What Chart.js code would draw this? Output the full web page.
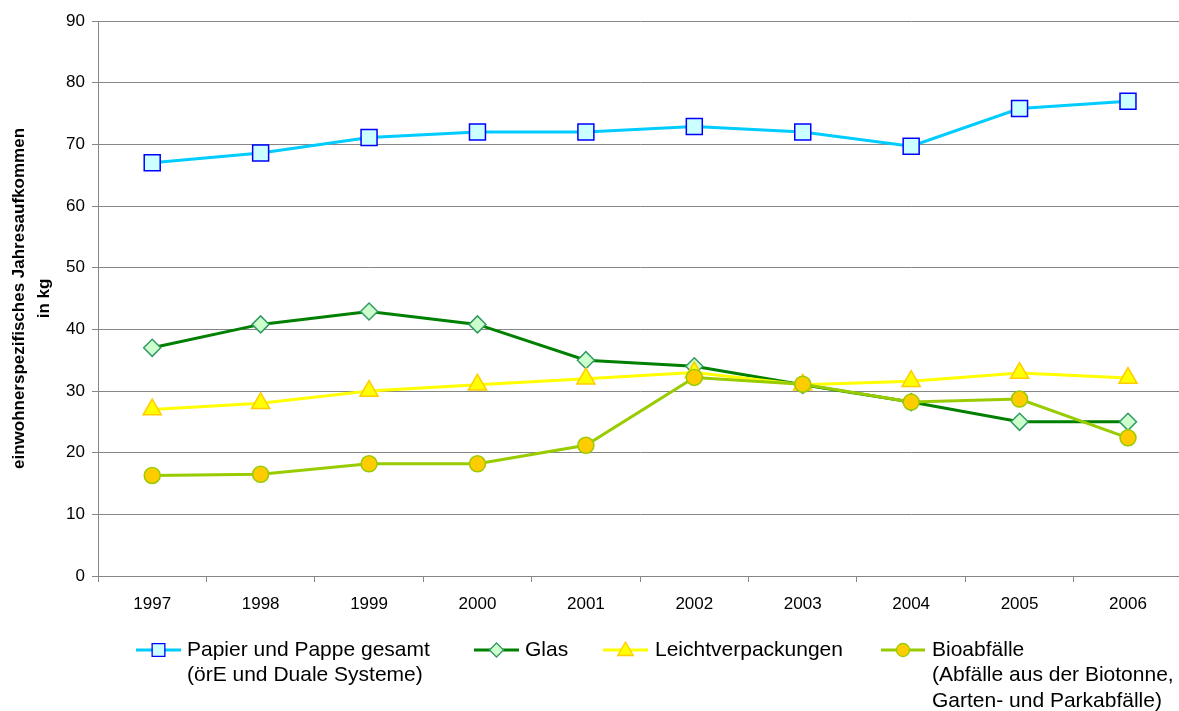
<!DOCTYPE html>
<html>
<head>
<meta charset="utf-8">
<script src="https://cdn.jsdelivr.net/npm/chart.js@4.4.1/dist/chart.umd.min.js"></script>
<style>
  html, body { margin: 0; padding: 0; background: #fff; overflow: hidden; }
</style>
</head>
<body>
<canvas id="wasteChart" width="1195" height="711"></canvas>
<script>
const years = ["1997", "1998", "1999", "2000", "2001", "2002", "2003", "2004", "2005", "2006"];
const papier = [67, 68.6, 71.1, 72, 72, 72.9, 72, 69.7, 75.8, 77];
const glas = [37, 40.8, 42.9, 40.8, 35, 34, 31, 28.2, 25, 25];
const leicht = [27, 28, 30, 31, 32, 33, 31, 31.6, 32.9, 32.1];
const bio = [16.3, 16.5, 18.2, 18.2, 21.2, 32.2, 31.1, 28.2, 28.7, 22.4];

const yTitle = ["einwohnerspezifisches Jahresaufkommen", "in kg"];
const legendTexts = [
  ["Papier und Pappe gesamt", "(örE und Duale Systeme)"],
  ["Glas"],
  ["Leichtverpackungen"],
  ["Bioabfälle", "(Abfälle aus der Biotonne,", "Garten- und Parkabfälle)"],
];

const FONT = "'Liberation Sans', Arial, sans-serif";

function marker(ctx, style, x, y, r, fill, stroke, bw) {
  ctx.save();
  ctx.fillStyle = fill;
  ctx.strokeStyle = stroke;
  ctx.lineWidth = bw;
  ctx.beginPath();
  if (style === "rect") {
    const s = r * Math.SQRT1_2;
    ctx.rect(x - s, y - s, 2 * s, 2 * s);
  } else if (style === "rectRot") {
    ctx.moveTo(x, y - r); ctx.lineTo(x + r, y); ctx.lineTo(x, y + r); ctx.lineTo(x - r, y); ctx.closePath();
  } else if (style === "triangle") {
    ctx.moveTo(x, y - r); ctx.lineTo(x + r * 0.866, y + r * 0.5); ctx.lineTo(x - r * 0.866, y + r * 0.5); ctx.closePath();
  } else {
    ctx.arc(x, y, r, 0, Math.PI * 2);
  }
  ctx.fill();
  ctx.stroke();
  ctx.restore();
}

// Legende unten, mehrzeilig
const legendPos = [
  { x0: 136, x1: 181, tx: 187, r: 9 },
  { x0: 474, x1: 519, tx: 525, r: 7 },
  { x0: 603, x1: 648, tx: 655, r: 9 },
  { x0: 881, x1: 925, tx: 932, r: 6.5 },
];
const legendPlugin = {
  id: "bottomLegend",
  afterDraw(chart) {
    const ctx = chart.ctx;
    const y = 650;
    chart.data.datasets.forEach((ds, i) => {
      const p = legendPos[i];
      ctx.save();
      ctx.strokeStyle = ds.borderColor;
      ctx.lineWidth = 3;
      ctx.beginPath();
      ctx.moveTo(p.x0, y);
      ctx.lineTo(p.x1, y);
      ctx.stroke();
      ctx.restore();
      marker(ctx, ds.pointStyle, (p.x0 + p.x1) / 2, y + (ds.pointStyle === "triangle" ? 1 : 0), p.r,
        ds.pointBackgroundColor, ds.pointBorderColor, 1.3);
      ctx.save();
      ctx.fillStyle = "#000";
      ctx.font = "21px " + FONT;
      ctx.textBaseline = "middle";
      legendTexts[i].forEach((t, j) => ctx.fillText(t, p.tx, y + j * 25.5));
      ctx.restore();
    });
  },
};

const config = {
  type: "line",
  data: {
    labels: years,
    datasets: [
      {
        label: "Papier und Pappe gesamt",
        data: papier,
        borderColor: "#00CCFF",
        borderWidth: 3,
        pointStyle: "rect",
        pointRadius: 11.3,
        pointBackgroundColor: "#CCFFFF",
        pointBorderColor: "#0000FF",
        pointBorderWidth: 1.5,
        order: 3,
      },
      {
        label: "Glas",
        data: glas,
        borderColor: "#008000",
        borderWidth: 3,
        pointStyle: "rectRot",
        pointRadius: 8.5,
        pointBackgroundColor: "#CCFFCC",
        pointBorderColor: "#339966",
        pointBorderWidth: 1.5,
        order: 2,
      },
      {
        label: "Leichtverpackungen",
        data: leicht,
        borderColor: "#FFFF00",
        borderWidth: 3,
        pointStyle: "triangle",
        pointRadius: 10.5,
        pointBackgroundColor: "#FFFF00",
        pointBorderColor: "#FFCC00",
        pointBorderWidth: 1.5,
        order: 1,
      },
      {
        label: "Bioabfälle",
        data: bio,
        borderColor: "#99CC00",
        borderWidth: 3,
        pointStyle: "circle",
        pointRadius: 8,
        pointBackgroundColor: "#FFCC00",
        pointBorderColor: "#99CC00",
        pointBorderWidth: 1.5,
        order: 0,
      },
    ],
  },
  options: {
    responsive: false,
    animation: false,
    layout: { padding: { top: 21, right: 1, bottom: 95, left: 0 } },
    plugins: {
      legend: { display: false },
      tooltip: { enabled: false },
    },
    elements: { line: { tension: 0 } },
    scales: {
      x: {
        offset: true,
        grid: { offset: true, drawOnChartArea: false, tickLength: 6, color: "#868686" },
        border: { color: "#868686", width: 1 },
        ticks: { color: "#000", font: { family: FONT, size: 17 }, padding: 12, maxRotation: 0 },
        afterFit: (s) => { s.height = 40; },
      },
      y: {
        min: 0,
        max: 90,
        ticks: { stepSize: 10, color: "#000", font: { family: FONT, size: 17 }, padding: 7 },
        grid: { color: "#868686", tickLength: 6 },
        border: { color: "#868686", width: 1 },
        title: {
          display: true,
          text: yTitle,
          color: "#000",
          font: { family: FONT, size: 17, weight: "bold", lineHeight: 1.45 },
          padding: { top: 7 },
        },
        afterFit: (s) => { s.width = 98; },
      },
    },
  },
  plugins: [legendPlugin],
};

const wasteChart = new Chart(document.getElementById("wasteChart").getContext("2d"), config);
</script>
</body>
</html>
